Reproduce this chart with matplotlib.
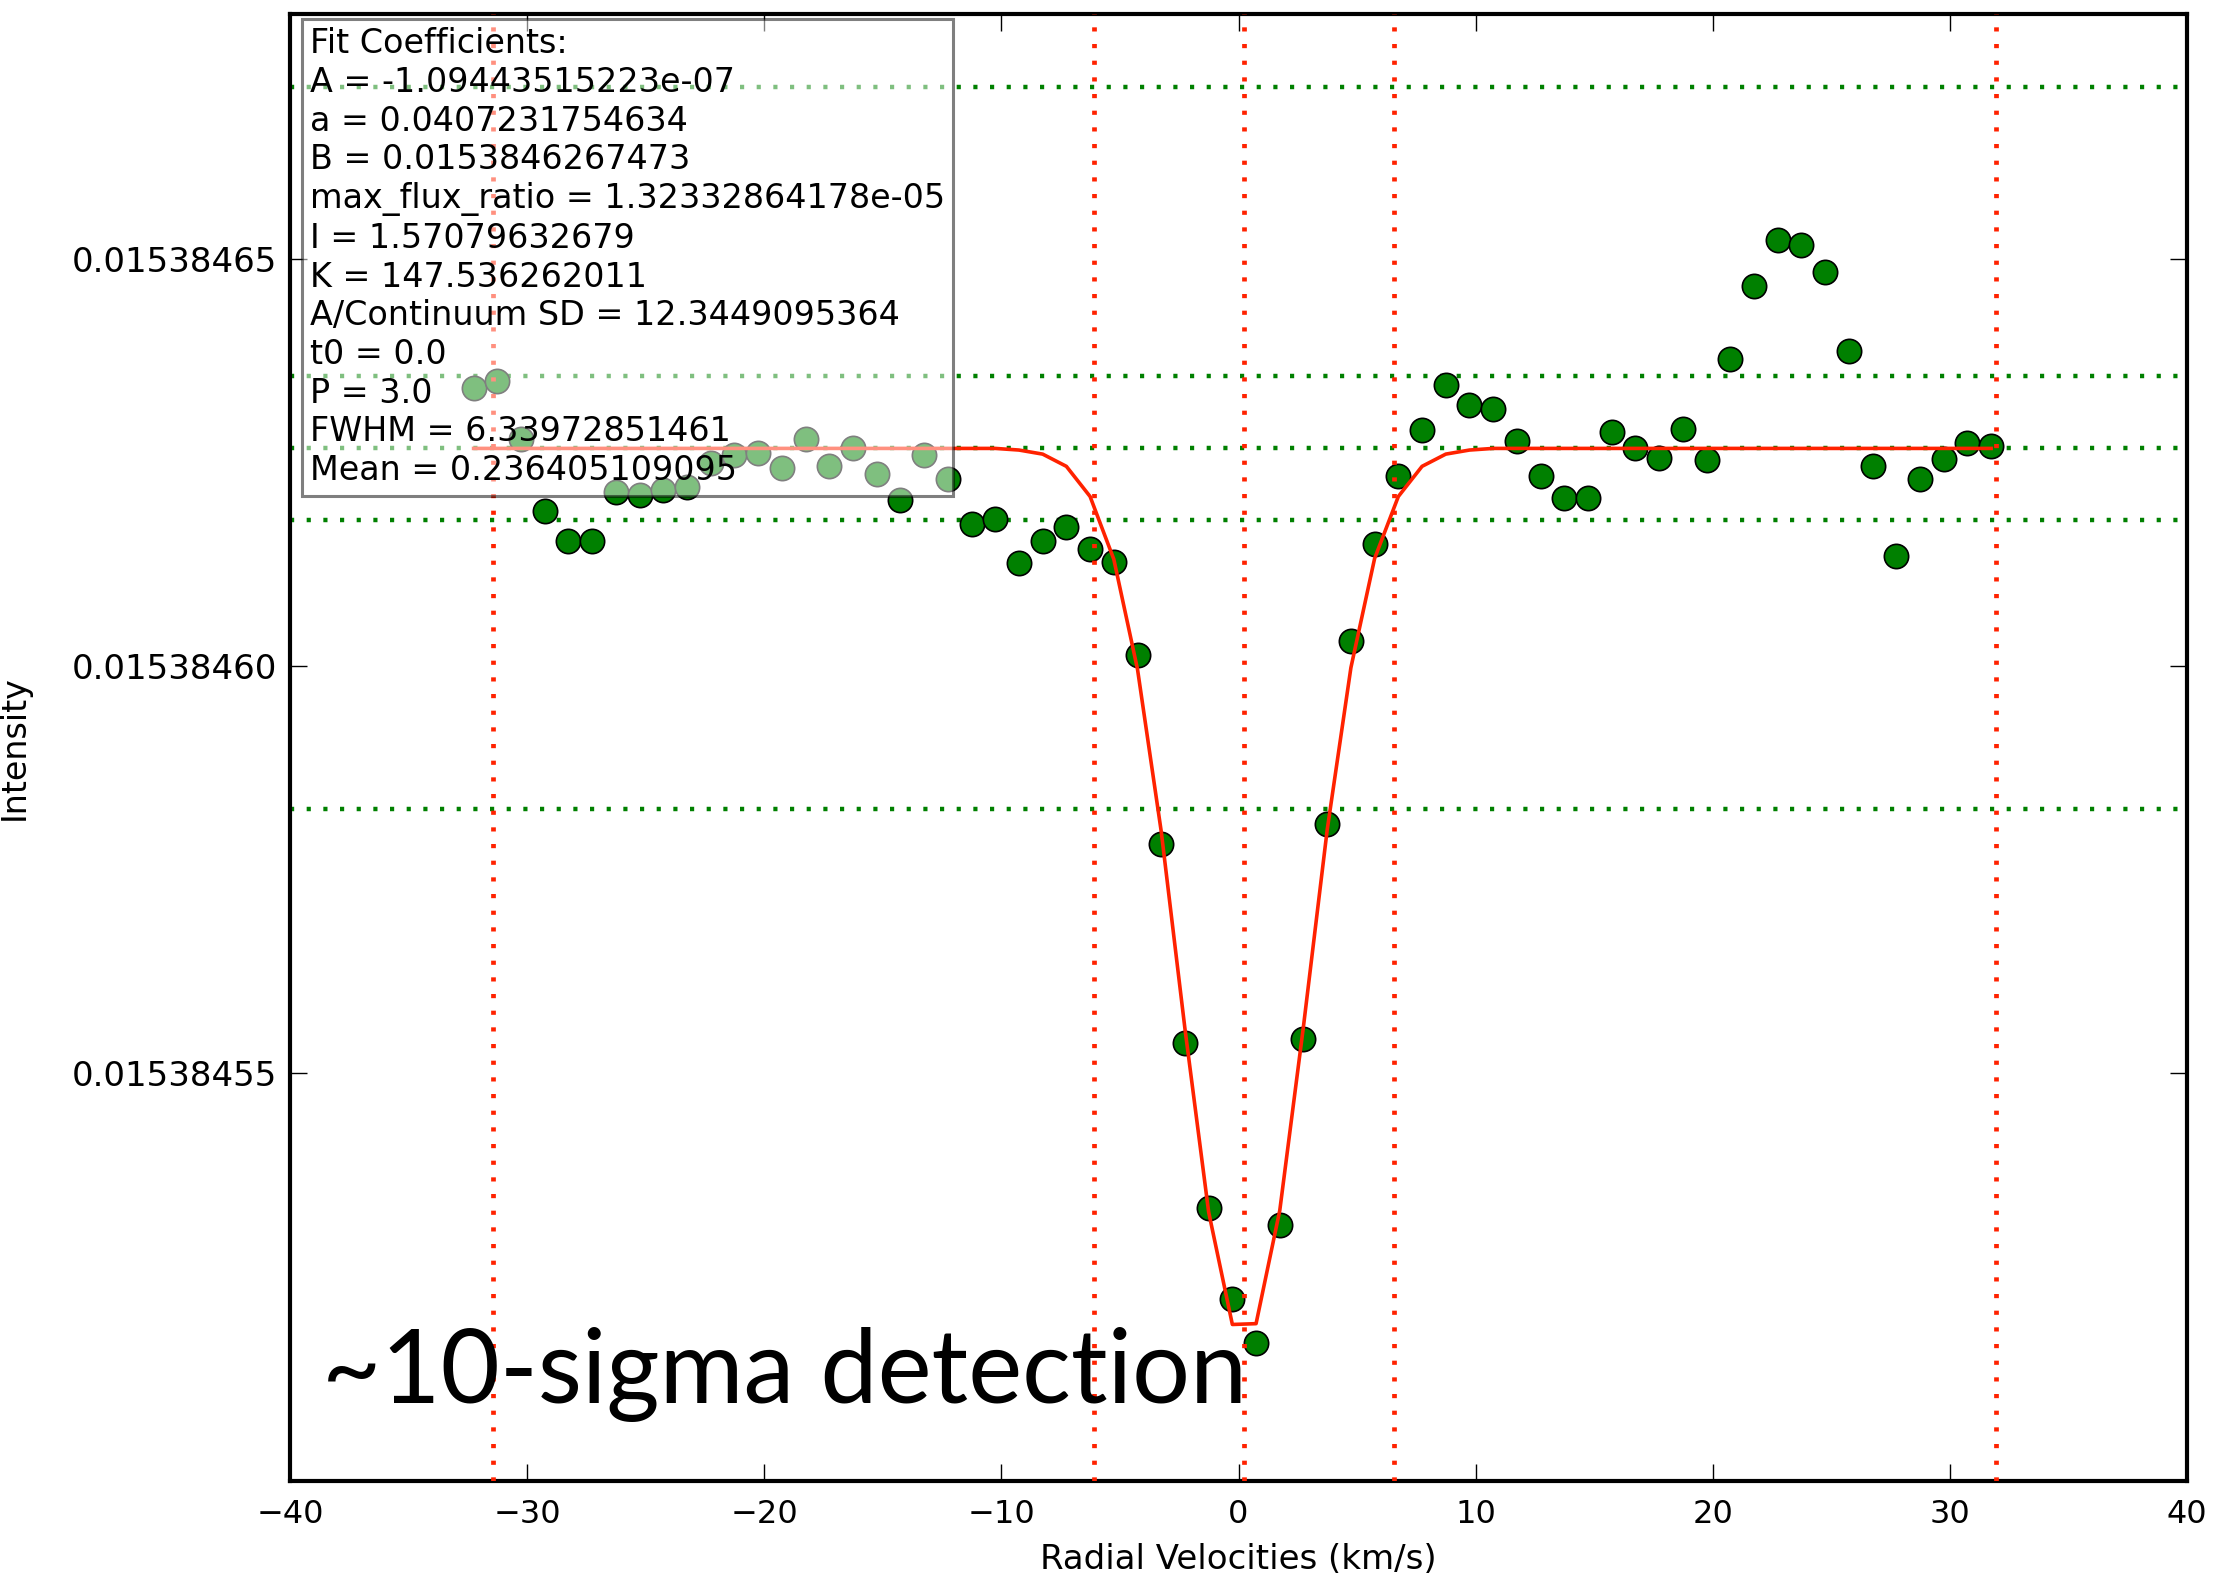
import numpy as np
import matplotlib
matplotlib.use("Agg")
import matplotlib.pyplot as plt
from matplotlib.ticker import FormatStrFormatter

plt.rcParams.update({
    "font.family": "DejaVu Sans",
    "xtick.direction": "in",
    "ytick.direction": "in",
    "xtick.top": True,
    "ytick.right": True,
    "xtick.major.size": 12,
    "ytick.major.size": 12,
    "xtick.major.width": 1.0,
    "ytick.major.width": 1.0,
    "axes.linewidth": 3.0,
    "lines.scale_dashes": False,
})

# fit coefficients (as printed in the box)
A = -1.09443515223e-07
a_coef = 0.0407231754634
B = 0.0153846267473
max_flux_ratio = 1.32332864178e-05
I_coef = 1.57079632679
K = 147.536262011
A_over_sd = 12.3449095364
t0 = 0.0
P = 3.0
FWHM = 6.33972851461
MEAN = 0.236405109095
SD = abs(A) / A_over_sd

# radial velocity grid (km/s)
velocities = [
    -32.26, -31.26, -30.26, -29.26, -28.26, -27.26, -26.26, -25.26, -24.26, -23.26,
    -22.26, -21.26, -20.26, -19.26, -18.26, -17.26, -16.26, -15.26, -14.26, -13.26,
    -12.26, -11.26, -10.26, -9.26, -8.26, -7.26, -6.26, -5.26, -4.26, -3.26,
    -2.26, -1.26, -0.26, 0.74, 1.74, 2.74, 3.74, 4.74, 5.74, 6.74,
    7.74, 8.74, 9.74, 10.74, 11.74, 12.74, 13.74, 14.74, 15.74, 16.74,
    17.74, 18.74, 19.74, 20.74, 21.74, 22.74, 23.74, 24.74, 25.74, 26.74,
    27.74, 28.74, 29.74, 30.74, 31.74,
]

# measured line profile
intensity = [
    0.0153846341, 0.0153846350, 0.0153846279, 0.0153846190, 0.0153846153,
    0.0153846153, 0.0153846214, 0.0153846210, 0.0153846216, 0.0153846220,
    0.0153846249, 0.0153846259, 0.0153846261, 0.0153846243, 0.0153846279,
    0.0153846246, 0.0153846267, 0.0153846235, 0.0153846204, 0.0153846259,
    0.0153846229, 0.0153846174, 0.0153846180, 0.0153846127, 0.0153846154,
    0.0153846171, 0.0153846143, 0.0153846128, 0.0153846014, 0.0153845781,
    0.0153845537, 0.0153845335, 0.0153845223, 0.0153845169, 0.0153845314,
    0.0153845542, 0.0153845806, 0.0153846031, 0.0153846150, 0.0153846233,
    0.0153846290, 0.0153846345, 0.0153846320, 0.0153846315, 0.0153846276,
    0.0153846233, 0.0153846206, 0.0153846206, 0.0153846287, 0.0153846267,
    0.0153846255, 0.0153846291, 0.0153846253, 0.0153846377, 0.0153846466,
    0.0153846523, 0.0153846516, 0.0153846483, 0.0153846386, 0.0153846246,
    0.0153846135, 0.0153846230, 0.0153846254, 0.0153846274, 0.0153846270,
]

# fitted profile sampled on the same grid
fit_intensity = [
    0.0153846267, 0.0153846267, 0.0153846267, 0.0153846267, 0.0153846267,
    0.0153846267, 0.0153846267, 0.0153846267, 0.0153846267, 0.0153846267,
    0.0153846267, 0.0153846267, 0.0153846267, 0.0153846267, 0.0153846267,
    0.0153846267, 0.0153846267, 0.0153846267, 0.0153846267, 0.0153846267,
    0.0153846267, 0.0153846267, 0.0153846267, 0.0153846265, 0.0153846260,
    0.0153846245, 0.0153846208, 0.0153846131, 0.0153845996, 0.0153845797,
    0.0153845555, 0.0153845330, 0.0153845192, 0.0153845193, 0.0153845332,
    0.0153845558, 0.0153845799, 0.0153845998, 0.0153846132, 0.0153846208,
    0.0153846245, 0.0153846260, 0.0153846265, 0.0153846267, 0.0153846267,
    0.0153846267, 0.0153846267, 0.0153846267, 0.0153846267, 0.0153846267,
    0.0153846267, 0.0153846267, 0.0153846267, 0.0153846267, 0.0153846267,
    0.0153846267, 0.0153846267, 0.0153846267, 0.0153846267, 0.0153846267,
    0.0153846267, 0.0153846267, 0.0153846267, 0.0153846267, 0.0153846267,
]

sd_steps = [-5, -1, 0, 1, 5]
fwhm_steps = [-5, -1, 0, 1, 5]

fig = plt.figure(figsize=(22.16, 15.79), dpi=100)
ax = fig.add_axes([0.1309, 0.0621, 0.8560, 0.9290])

dots = (0, (3.0, 9.0))

for k in sd_steps:
    ax.axhline(B + k * SD, color="#008000", lw=3.2, linestyle=dots, zorder=1)

ax.plot(velocities, intensity, "o", color="#008000", mec="black", mew=1.2,
        ms=17.5, zorder=2)

for k in fwhm_steps:
    ax.axvline(MEAN + k * FWHM, color="#ff2200", lw=3.4, linestyle=dots, zorder=3)

ax.plot(velocities, fit_intensity, "-", color="#ff2200", lw=2.6, zorder=4)

ax.set_xlim(-40, 40)
ax.set_ylim(0.0153845, 0.01538468)
ax.set_xticks(np.arange(-40, 41, 10))
ax.set_yticks([0.01538455, 0.01538460, 0.01538465])
ax.yaxis.set_major_formatter(FormatStrFormatter("%.8f"))
ax.tick_params(axis="x", labelsize=23, pad=13)
ax.tick_params(axis="y", labelsize=24.5, pad=9)

ax.set_xlabel("Radial Velocities (km/s)", fontsize=24.5)
ax.set_ylabel("Intensity", fontsize=24)
ax.xaxis.set_label_coords(0.5, -0.042)
ax.yaxis.set_label_coords(-0.1365, 0.5)

coeff_text = "\n".join([
    "Fit Coefficients:",
    f"A = {A:.12g}",
    f"a = {a_coef:.12g}",
    f"B = {B:.12g}",
    f"max_flux_ratio = {max_flux_ratio:.12g}",
    f"I = {I_coef:.12g}",
    f"K = {K:.12g}",
    f"A/Continuum SD = {A_over_sd:.12g}",
    f"t0 = {t0:.1f}",
    f"P = {P:.1f}",
    f"FWHM = {FWHM:.12g}",
    f"Mean = {MEAN:.12g}",
])
ax.text(0.0105, 0.991, coeff_text, transform=ax.transAxes, fontsize=24,
        ha="left", va="top", linespacing=1.22, zorder=10,
        bbox=dict(boxstyle="square,pad=0.25", facecolor=(1, 1, 1, 0.5),
                  edgecolor=(0, 0, 0, 0.5), linewidth=2.2))

ax.text(0.017, 0.053, "~10-sigma detection", transform=ax.transAxes,
        fontsize=73.5, family=["Lato", "DejaVu Sans"], ha="left", va="baseline",
        zorder=11)

fig.savefig("out.png", dpi=100)
